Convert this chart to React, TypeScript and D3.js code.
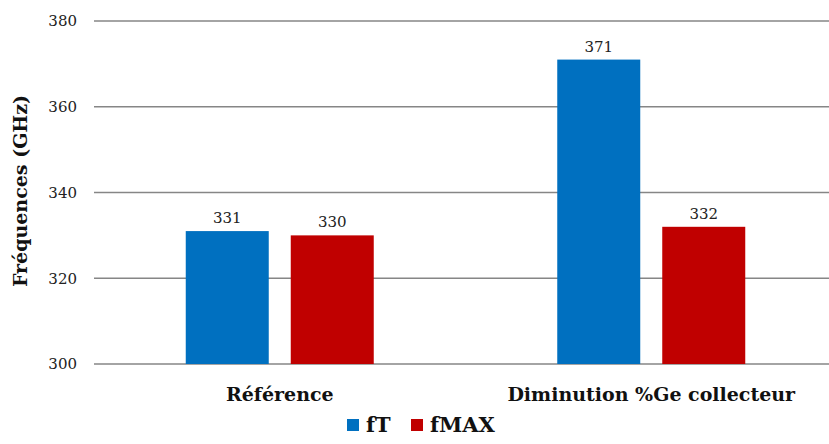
import React from "react";
import * as d3 from "d3";

const categories = ["Référence", "Diminution %Ge collecteur"];
const seriesNames = ["fT", "fMAX"];
const fT = [331, 371];
const fMAX = [330, 332];
const yTicks = [300, 320, 340, 360, 380];
const colors = ["#0070C0", "#C00000"];

export default function App() {
  const W = 829, H = 444;
  const x0 = d3.scaleBand().domain(categories).range([94, 837]).paddingInner(0).paddingOuter(0);
  const bw = 83, gap = 22;
  const y = d3.scaleLinear().domain([300, 380]).range([364, 21]);
  const series = [fT, fMAX];
  const fontStyle = { fontFamily: "'DejaVu Serif', serif" };
  return (
    <svg width={W} height={H} style={{ position: "absolute", left: 0, top: 0, background: "#fff" }}>
      {yTicks.map((t) => (
        <g key={t}>
          <line x1={94} x2={W} y1={y(t)} y2={y(t)} stroke="#868686" strokeWidth={1.3} />
          <text x={77} y={y(t)} dy="0.35em" textAnchor="end" fontSize={15} fill="#222" style={fontStyle}>{t}</text>
        </g>
      ))}
      {categories.map((c, i) => {
        const cx = x0(c)! + x0.bandwidth() / 2;
        return (
          <g key={c}>
            {series.map((s, j) => {
              const bx = cx - bw - gap / 2 + j * (bw + gap);
              return (
                <g key={j}>
                  <rect x={bx} y={y(s[i])} width={bw} height={y(300) - y(s[i])} fill={colors[j]} />
                  <text x={bx + bw / 2} y={y(s[i]) - 8} textAnchor="middle" fontSize={15} fill="#222" style={fontStyle}>{s[i]}</text>
                </g>
              );
            })}
            <text x={cx} y={401} textAnchor="middle" fontSize={19} fontWeight="bold" fill="#111" style={fontStyle}>{c}</text>
          </g>
        );
      })}
      <text transform={`translate(27,191) rotate(-90)`} textAnchor="middle" fontSize={19} fontWeight="bold" fill="#111" style={fontStyle}>Fréquences (GHz)</text>
      {seriesNames.map((n, j) => {
        const lx = [347, 411][j];
        return (
          <g key={n}>
            <rect x={lx} y={419} width={12} height={12} fill={colors[j]} />
            <text x={lx + 19} y={432} fontSize={21} fontWeight="bold" fill="#111" style={fontStyle}>{n}</text>
          </g>
        );
      })}
    </svg>
  );
}
